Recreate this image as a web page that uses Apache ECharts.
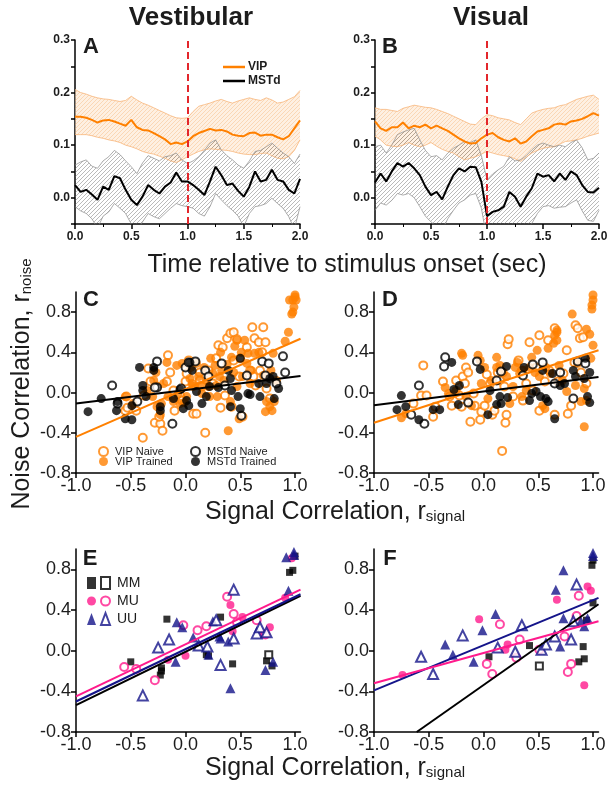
<!DOCTYPE html>
<html>
<head>
<meta charset="utf-8">
<script src="https://cdn.jsdelivr.net/npm/echarts@6/dist/echarts.min.js"></script>
<style>
  html, body { margin: 0; padding: 0; background: #fff; }
  #chart { width: 616px; height: 795px; }
</style>
</head>
<body>
<div id="chart"></div>
<script>
// ---- time course panels (A, B) ----
const t = [0,0.05,0.1,0.15,0.2,0.25,0.3,0.35,0.4,0.45,0.5,0.55,0.6,0.65,0.7,0.75,0.8,0.85,0.9,0.95,1.0,
  1.05,1.1,1.15,1.2,1.25,1.3,1.35,1.4,1.45,1.5,1.55,1.6,1.65,1.7,1.75,1.8,1.85,1.9,1.95,2.0];

const vipMeanA = [.154,.154,.152,.148,.143,.147,.148,.145,.141,.137,.148,.134,.129,.128,.123,.117,.111,.102,.105,.102,
  .107,.117,.123,.127,.131,.128,.129,.126,.120,.118,.117,.123,.124,.118,.120,.120,.115,.111,.117,.132,.147];
const vipUpA = [.206,.200,.197,.193,.190,.188,.187,.185,.183,.185,.193,.186,.180,.176,.171,.166,.161,.156,.152,.151,
  .152,.164,.174,.177,.180,.184,.187,.183,.180,.184,.187,.190,.187,.185,.190,.186,.180,.182,.187,.192,.204];
const vipLoA = [.120,.120,.120,.118,.115,.113,.110,.108,.105,.100,.097,.093,.088,.085,.083,.079,.075,.070,.067,.072,
  .078,.083,.088,.091,.093,.092,.091,.090,.088,.085,.083,.082,.082,.084,.085,.080,.075,.074,.078,.090,.110];
const mstMeanA = [.024,.011,.015,.006,-.004,.021,.015,.041,.037,.015,-.004,-.014,.002,.024,.015,.008,.021,.029,.048,.031,
  .031,.024,.015,.005,.031,.059,.043,.024,.027,.013,.002,.021,.050,.031,.034,.053,.034,.031,.015,.008,.036];
const mstUpA = [.062,.068,.072,.060,.056,.070,.078,.090,.082,.070,.059,.046,.066,.080,.075,.070,.078,.080,.085,.072,
  .065,.070,.078,.090,.104,.110,.091,.080,.072,.062,.056,.070,.088,.090,.097,.104,.094,.085,.078,.065,.083];
const mstLoA = [-.017,-.025,-.030,-.040,-.058,-.035,-.027,-.011,-.020,-.030,-.050,-.065,-.046,-.030,-.036,-.040,-.030,-.020,-.011,-.015,
  -.017,-.020,-.030,-.035,-.017,.008,-.004,-.015,-.024,-.035,-.055,-.030,-.017,-.015,-.011,-.001,-.011,-.020,-.036,-.060,-.017];

const vipMeanB = [.145,.132,.127,.134,.134,.143,.132,.137,.134,.139,.132,.137,.132,.127,.120,.113,.107,.103,.104,.113,
  .120,.123,.115,.110,.107,.113,.103,.107,.117,.126,.129,.132,.139,.141,.139,.145,.147,.150,.155,.161,.156];
const vipUpB = [.171,.168,.168,.166,.164,.170,.173,.176,.174,.172,.171,.168,.164,.160,.155,.150,.145,.140,.139,.150,
  .158,.156,.152,.150,.148,.143,.139,.150,.161,.165,.168,.170,.171,.175,.177,.182,.187,.190,.193,.195,.187];
const vipLoB = [.117,.110,.100,.098,.097,.100,.105,.100,.097,.100,.105,.098,.092,.088,.085,.078,.072,.075,.078,.083,
  .088,.085,.082,.080,.078,.074,.069,.077,.085,.090,.094,.096,.097,.102,.107,.108,.110,.113,.117,.120,.123];
const mstMeanB = [.029,.046,.031,.050,.066,.059,.066,.056,.043,.021,.005,.011,-.003,.021,.043,.056,.050,.059,.058,.030,
  -.035,-.027,-.024,-.017,.011,.002,-.017,.002,.018,.046,.040,.043,.031,.046,.034,.050,.043,.024,.011,.010,.019];
const mstUpB = [.097,.100,.085,.100,.120,.125,.129,.132,.110,.090,.078,.080,.072,.085,.094,.100,.107,.105,.110,.080,
  .034,.045,.053,.060,.078,.070,.072,.080,.091,.100,.104,.100,.097,.100,.097,.105,.110,.095,.072,.075,.085];
const mstLoB = [-.024,-.010,-.014,-.005,.008,.005,.008,.000,-.017,-.035,-.046,-.055,-.062,-.040,-.024,-.010,-.004,.005,.008,-.020,
  -.080,-.085,-.080,-.070,-.062,-.068,-.074,-.060,-.049,-.030,-.017,-.015,-.020,-.018,-.017,-.010,-.004,-.025,-.043,-.045,-.024];

const stimOnset = 1.0;

// ---- noise vs signal correlation (C, D) ----
const vipNaiveC = [[-0.55,-0.18],[-0.54,-0.04],[-0.53,-0.15],[-0.45,-0.18],[-0.39,-0.45],[-0.38,-0.03],[-0.34,0.24],[-0.32,0.11],
  [-0.28,-0.30],[-0.23,-0.31],[-0.21,-0.38],[-0.24,-0.24],[-0.26,0.06],[-0.17,0.11],[-0.16,0.37],[-0.14,0.20],[-0.11,0.02],
  [-0.10,-0.18],[-0.05,-0.03],[-0.03,-0.08],[0.0,0.11],[0.01,0.19],[0.03,0.32],[0.07,-0.21],[0.10,-0.21],[0.13,0.20],[0.13,0.12],
  [0.15,0.06],[0.18,-0.40],[0.21,0.22],[0.25,0.09],[0.28,0.34],[0.30,0.47],[0.32,-0.15],[0.34,0.45],[0.36,-0.03],[0.38,0.54],
  [0.41,0.59],[0.44,0.60],[0.44,0.32],[0.47,0.53],[0.49,0.16],[0.50,0.34],[0.52,-0.24],[0.56,0.45],[0.59,0.22],[0.61,0.65],
  [0.63,0.54],[0.64,0.07],[0.67,0.50],[0.68,0.22],[0.71,0.65],[0.73,0.50],[0.74,0.04],[0.77,-0.06],[0.70,0.40],[0.62,0.16],[0.42,-0.14]];
const vipTrainedC = [[-0.55,-0.04],[-0.48,-0.11],[-0.35,0.02],[-0.29,0.12],[-0.26,-0.14],[-0.23,-0.22],[-0.22,-0.11],[-0.17,0.30],
  [-0.16,-0.04],[-0.11,-0.09],[-0.08,0.27],[-0.07,-0.02],[-0.05,-0.11],[-0.03,0.29],[-0.01,-0.10],[0.01,-0.04],[0.04,0.14],
  [0.05,0.25],[0.06,0.09],[0.07,0.06],[0.10,0.29],[0.12,0.16],[0.13,0.07],[0.15,-0.01],[0.17,0.25],[0.19,0.12],[0.21,0.06],
  [0.22,-0.04],[0.23,0.34],[0.25,0.19],[0.27,0.27],[0.28,0.07],[0.29,-0.04],[0.31,0.16],[0.32,0.40],[0.33,0.22],[0.35,0.12],
  [0.38,0.28],[0.39,-0.38],[0.41,-0.09],[0.42,0.35],[0.44,0.20],[0.45,0.46],[0.47,0.06],[0.47,0.52],[0.49,-0.26],[0.51,0.40],
  [0.52,0.16],[0.54,0.52],[0.56,0.29],[0.57,0.39],[0.59,0.09],[0.60,0.22],[0.63,0.39],[0.67,0.40],[0.71,0.17],[0.73,-0.19],
  [0.74,-0.09],[0.77,-0.14],[0.78,0.22],[0.79,-0.18],[0.80,0.39],[0.81,-0.09],[0.83,0.12],[0.91,0.51],[0.94,0.60],[0.95,0.92],
  [0.97,0.78],[0.98,0.80],[0.99,0.85],[1.0,0.97],[1.01,0.92],[0.98,0.92],[1.0,0.95],[-0.27,0.20],[-0.30,-0.04],[-0.20,0.09]];
const mstNaiveC = [[-0.67,0.07],[-0.62,-0.11],[-0.44,-0.09],[-0.26,0.31],[-0.26,0.05],[-0.28,0.05],[-0.12,-0.31],[-0.04,0.04],
  [0.0,0.25],[0.03,0.30],[0.09,0.31],[0.18,0.22],[0.21,0.16],[0.33,0.29],[0.36,0.07],[0.56,0.17],[0.51,-0.23],[0.70,0.31],
  [0.76,0.29],[0.73,0.17],[0.83,0.09],[0.89,0.36],[0.91,0.20]];
const mstTrainedC = [[-0.89,-0.19],[-0.77,-0.06],[-0.63,-0.18],[-0.62,-0.09],[-0.55,-0.26],[-0.49,-0.27],[-0.49,-0.13],[-0.42,0.25],
  [-0.39,0.07],[-0.39,0.02],[-0.36,-0.04],[-0.29,0.25],[-0.29,0.22],[-0.23,-0.14],[-0.23,-0.18],[-0.11,-0.06],[-0.02,-0.16],
  [0.01,-0.08],[0.03,-0.13],[0.04,0.30],[0.06,0.22],[0.10,0.01],[0.15,-0.11],[0.19,-0.04],[0.22,0.06],[0.39,0.22],[0.41,0.14],
  [0.42,0.02],[0.41,-0.14],[0.48,-0.04],[0.50,0.34],[0.50,-0.16],[0.57,-0.01],[0.59,-0.02],[0.67,0.09],[0.68,-0.04],[0.74,0.09],
  [0.77,0.14],[0.80,0.16],[0.81,-0.06],[0.85,0.04],[0.30,0.05],[-0.05,0.03]];
const fitVipC = [[-1.0,-0.44],[1.05,0.535]];
const fitMstC = [[-1.0,-0.11],[1.05,0.165]];

const vipNaiveD = [[-0.55,0.27],[-0.64,-0.11],[-0.57,-0.03],[-0.52,-0.03],[-0.46,-0.24],[-0.44,-0.14],[-0.37,0.11],[-0.31,-0.04],
  [-0.29,-0.13],[-0.25,0.12],[-0.22,-0.03],[-0.20,-0.14],[-0.19,0.16],[-0.17,0.09],[-0.16,0.25],[-0.14,0.20],[-0.12,-0.29],
  [-0.09,-0.01],[-0.08,-0.13],[-0.03,-0.27],[-0.02,-0.19],[0.01,-0.13],[0.03,0.18],[0.06,0.09],[0.08,-0.22],[0.10,-0.18],
  [0.13,0.20],[0.15,0.12],[0.17,-0.58],[0.19,0.06],[0.20,-0.30],[0.21,-0.22],[0.22,0.48],[0.23,0.53],[0.27,-0.04],[0.32,0.32],
  [0.35,0.22],[0.36,-0.08],[0.39,0.09],[0.42,0.50],[0.45,0.02],[0.48,0.25],[0.51,-0.18],[0.51,0.57],[0.56,0.11],[0.59,0.52],
  [0.60,0.22],[0.65,0.64],[0.65,-0.22],[0.68,0.11],[0.73,0.19],[0.76,0.42],[0.77,-0.21],[0.80,-0.13],[0.84,0.67],[0.86,0.64],
  [0.88,0.54],[0.91,0.55],[0.89,0.20],[0.94,0.09],[0.83,0.30]];
const vipTrainedD = [[-0.75,-0.25],[-0.71,-0.21],[-0.35,0.05],[-0.32,-0.01],[-0.25,0.02],[-0.20,0.39],[-0.19,0.37],[-0.16,-0.04],
  [-0.11,-0.13],[-0.05,0.37],[-0.03,0.32],[-0.02,0.09],[0.01,0.25],[0.04,-0.06],[0.07,0.12],[0.12,0.35],[0.15,0.27],[0.18,0.20],
  [0.21,0.16],[0.24,-0.11],[0.27,0.06],[0.29,0.25],[0.31,0.30],[0.33,0.19],[0.35,-0.04],[0.36,0.22],[0.39,0.02],[0.42,0.25],
  [0.44,0.35],[0.47,0.20],[0.49,0.42],[0.51,0.16],[0.54,-0.13],[0.56,-0.16],[0.57,0.25],[0.59,0.44],[0.61,0.19],[0.64,0.49],
  [0.65,0.57],[0.67,0.60],[0.67,0.52],[0.67,0.62],[0.69,0.27],[0.72,0.12],[0.76,0.01],[0.81,0.78],[0.84,0.07],[0.86,0.29],
  [0.89,-0.09],[0.92,0.04],[0.92,-0.34],[0.94,0.63],[0.94,-0.08],[0.97,0.58],[0.98,0.34],[1.0,0.47],[0.99,0.87],[1.0,0.92],
  [1.0,0.97],[0.99,0.83],[0.12,0.25]];
const mstNaiveD = [[-0.66,-0.22],[-0.59,0.07],[-0.54,-0.31],[-0.36,0.26],[-0.35,0.35],[-0.14,-0.10],[-0.06,0.31],[0.12,0.12],
  [0.16,0.21],[0.36,0.17],[0.45,0.28],[0.54,0.30],[0.65,0.09],[0.70,0.20],[0.82,-0.06],[0.86,0.31],[0.93,0.29]];
const mstTrainedD = [[-0.75,-0.03],[-0.79,-0.17],[-0.71,-0.14],[-0.59,-0.27],[-0.46,-0.17],[-0.40,-0.17],[-0.29,0.30],[-0.27,0.03],
  [-0.22,0.07],[-0.23,-0.12],[-0.03,0.23],[0.04,-0.22],[0.06,0.02],[0.12,-0.12],[0.15,-0.04],[0.16,-0.11],[0.21,0.26],[0.22,-0.05],
  [0.37,0.25],[0.42,-0.08],[0.44,-0.01],[0.48,0.01],[0.52,-0.04],[0.54,0.22],[0.57,-0.06],[0.59,-0.09],[0.63,0.19],[0.65,-0.26],
  [0.70,0.07],[0.74,0.09],[0.82,0.22],[0.84,0.16],[0.92,0.14],[0.93,0.34],[0.97,0.20],[0.95,-0.04],[0.97,-0.10]];
const fitVipD = [[-1.0,-0.30],[1.05,0.42]];
const fitMstD = [[-1.0,-0.126],[1.05,0.155]];

// ---- pair types (E, F) ----
const mmFilledE = [[-0.50,-0.11],[-0.22,-0.17],[-0.22,-0.20],[-0.23,-0.24],[-0.17,0.31],[0.19,-0.04],[0.21,-0.05],[0.32,0.33],
  [0.43,-0.13],[0.74,-0.10],[0.79,-0.15],[0.95,0.77],[0.98,0.79],[1.0,0.93]];
const mmOpenE = [[0.76,-0.04]];
const muFilledE = [[0.0,-0.05],[0.41,0.45],[0.43,0.19],[0.52,0.33],[0.71,0.16],[0.77,0.23],[0.91,0.52],[0.97,0.91],[-0.16,-0.09]];
const muOpenE = [[-0.56,-0.16],[-0.45,-0.18],[-0.28,-0.29],[-0.02,0.25],[0.11,0.20],[0.19,0.24],[0.38,0.53],[0.44,0.36],
  [0.47,0.28],[0.65,0.30],[0.73,0.16]];
const uuFilledE = [[-0.08,0.28],[-0.03,0.23],[-0.09,-0.11],[0.07,0.13],[0.21,-0.04],[0.25,0.29],[0.31,0.14],[0.32,0.12],
  [0.39,0.09],[0.41,-0.37],[0.73,-0.19],[0.80,-0.11],[0.92,0.92],[0.94,0.59],[0.99,0.97],[0.99,0.94]];
const uuOpenE = [[-0.39,-0.44],[-0.25,0.03],[-0.15,0.11],[0.12,0.05],[0.20,0.04],[0.32,-0.14],[0.28,0.30],[0.44,0.60],
  [0.44,0.12],[0.65,0.17],[0.68,0.23],[0.74,0.18]];
const fitMuE = [[-1.0,-0.45],[1.05,0.60]];
const fitUuE = [[-1.0,-0.50],[1.05,0.555]];
const fitMmE = [[-1.0,-0.535],[1.05,0.54]];

const mmFilledF = [[0.05,-0.06],[0.42,0.05],[0.87,-0.11],[0.92,-0.08],[0.91,0.04],[0.94,0.30],[1.0,0.47],[0.99,0.84],[1.0,0.89]];
const mmOpenF = [[0.51,-0.15]];
const muFilledF = [[-0.74,-0.24],[-0.04,0.31],[0.22,0.06],[0.20,0.01],[0.67,0.50],[0.95,0.63],[0.98,0.59],[0.92,-0.34]];
const muOpenF = [[0.03,-0.13],[0.08,-0.23],[0.15,0.26],[0.33,0.11],[0.30,-0.07],[0.51,0.01],[0.74,0.14],[0.77,-0.21],
  [0.80,-0.13],[0.87,0.54],[0.85,0.34]];
const uuFilledF = [[-0.35,0.06],[-0.28,-0.04],[-0.09,-0.11],[-0.01,0.20],[0.11,0.36],[0.66,0.60],[0.73,0.79],[0.73,0.32],
  [0.70,0.04],[0.89,0.29],[0.92,0.24],[0.95,0.32],[1.0,0.96],[1.0,0.93]];
const uuOpenF = [[-0.57,-0.06],[-0.46,-0.23],[-0.19,0.15],[0.13,0.03],[0.29,-0.01],[0.35,0.25],[0.53,0.01],[0.57,0.06],
  [0.65,0.14],[0.80,0.11],[0.85,0.65],[0.82,0.29]];
const fitMuF = [[-1.0,-0.32],[1.05,0.29]];
const fitUuF = [[-1.0,-0.39],[1.05,0.52]];
const fitMmF = [[-0.61,-0.8],[1.05,0.457]];

// ---- look ----
const FONT = '"Liberation Sans", Arial, Helvetica, sans-serif';
const INK = '#1c1c1c';
const ORANGE = '#ff8000';
const PINK = '#ff1a8c';
const NAVY = '#14148a';

function hatch(bg, ink, size) {
  const c = document.createElement('canvas');
  c.width = size; c.height = size;
  const g = c.getContext('2d');
  if (bg) { g.fillStyle = bg; g.fillRect(0, 0, size, size); }
  g.strokeStyle = ink; g.lineWidth = 0.6;
  g.beginPath();
  g.moveTo(0, size); g.lineTo(size, 0);
  g.moveTo(-1, 1); g.lineTo(1, -1);
  g.moveTo(size - 1, size + 1); g.lineTo(size + 1, size - 1);
  g.stroke();
  return c;
}
const vipHatch = hatch('rgba(253,226,198,0.5)', 'rgba(245,170,100,0.6)', 4);
const mstHatch = hatch(null, 'rgba(100,100,100,0.75)', 4);

const pairs = (xs, ys) => xs.map((x, i) => [x, ys[i]]);

const axisLine = { onZero: false, lineStyle: { color: '#000', width: 1.5 } };

function timeX(i) {
  return {
    gridIndex: i, type: 'value', min: 0, max: 2, interval: 0.5,
    axisLine, axisTick: { length: 5, lineStyle: { width: 1.5 } },
    minorTick: { show: true, splitNumber: 2, length: 3, lineStyle: { color: '#000' } },
    splitLine: { show: false },
    axisLabel: { color: INK, fontFamily: FONT, fontWeight: 'bold', fontSize: 12, margin: 7,
      formatter: v => v.toFixed(1) }
  };
}
function timeY(i) {
  return {
    gridIndex: i, type: 'value', min: -0.05, max: 0.3, interval: 0.05,
    axisLine, axisTick: { length: 4, lineStyle: { width: 1.5 } },
    splitLine: { show: false },
    axisLabel: { color: INK, fontFamily: FONT, fontWeight: 'bold', fontSize: 12, margin: 5,
      formatter: v => (Math.round(v * 100) % 10 === 0 ? v.toFixed(1) : '') }
  };
}
function corrX(i) {
  const ticks = [-1, -0.5, 0, 0.5, 1];
  return {
    gridIndex: i, type: 'value', min: -1, max: 1.05,
    axisLine, axisTick: { length: 5, lineStyle: { width: 1.5 }, customValues: ticks },
    splitLine: { show: false },
    axisLabel: { color: INK, fontFamily: FONT, fontSize: 18, margin: 4, customValues: ticks,
      formatter: v => v.toFixed(1) }
  };
}
function corrY(i) {
  const ticks = [-0.8, -0.4, 0, 0.4, 0.8];
  return {
    gridIndex: i, type: 'value', min: -0.8, max: 1.0,
    axisLine, axisTick: { length: 5, lineStyle: { width: 1.5 }, customValues: ticks },
    splitLine: { show: false },
    axisLabel: { color: INK, fontFamily: FONT, fontSize: 18, margin: 5, customValues: ticks,
      formatter: v => v.toFixed(1) }
  };
}

// shaded error band: hatched polygon between lo and up, plus thin edges
function band(gi, lo, up, fill, edge, ew) {
  const edgeLine = ys => ({ type: 'line', xAxisIndex: gi, yAxisIndex: gi, data: pairs(t, ys),
    symbol: 'none', silent: true, z: 3, lineStyle: { color: edge, width: ew } });
  return [
    { type: 'custom', xAxisIndex: gi, yAxisIndex: gi, clip: true, silent: true, z: 2,
      data: [[0, 0]],
      renderItem: (params, api) => {
        const top = t.map((x, i) => api.coord([x, up[i]]));
        const bot = t.map((x, i) => api.coord([x, lo[i]])).reverse();
        return { type: 'polygon', shape: { points: top.concat(bot) },
          style: { fill: { image: fill, repeat: 'repeat' }, stroke: null } };
      } },
    edgeLine(up), edgeLine(lo)
  ];
}
function mean(name, gi, ys, color, withOnset) {
  const s = { name, type: 'line', xAxisIndex: gi, yAxisIndex: gi, data: pairs(t, ys),
    symbol: 'none', silent: true, z: 4, itemStyle: { color }, lineStyle: { color, width: 2 } };
  if (withOnset) {
    s.markLine = { silent: true, symbol: 'none', label: { show: false },
      lineStyle: { color: '#e3262b', type: [7, 4], width: 2 }, data: [{ xAxis: stimOnset }] };
  }
  return s;
}
function sc(name, gi, data, symbol, color, size, bw) {
  return { name, type: 'scatter', xAxisIndex: gi, yAxisIndex: gi, data, symbol, symbolSize: size,
    silent: true, itemStyle: { color, borderWidth: bw || 0 } };
}
function fit(gi, data, color) {
  return { type: 'line', xAxisIndex: gi, yAxisIndex: gi, data, symbol: 'none', silent: true, z: 5,
    lineStyle: { color, width: 2 } };
}

const series = [].concat(
  band(0, vipLoA, vipUpA, vipHatch, '#f8b57a', 0.8),
  band(0, mstLoA, mstUpA, mstHatch, '#8a8a8a', 0.7),
  [mean('VIP', 0, vipMeanA, ORANGE, true), mean('MSTd', 0, mstMeanA, '#000', false)],
  band(1, vipLoB, vipUpB, vipHatch, '#f8b57a', 0.8),
  band(1, mstLoB, mstUpB, mstHatch, '#8a8a8a', 0.7),
  [mean('VIP', 1, vipMeanB, ORANGE, true), mean('MSTd', 1, mstMeanB, '#000', false)],
  [
    sc('VIP Naive', 2, vipNaiveC, 'emptyCircle', ORANGE, 8, 1.3),
    sc('VIP Trained', 2, vipTrainedC, 'circle', ORANGE, 9),
    sc('MSTd Naive', 2, mstNaiveC, 'emptyCircle', '#000', 8, 1.3),
    sc('MSTd Trained', 2, mstTrainedC, 'circle', '#000', 9),
    fit(2, fitVipC, ORANGE), fit(2, fitMstC, '#000'),
    sc('VIP Naive', 3, vipNaiveD, 'emptyCircle', ORANGE, 8, 1.3),
    sc('VIP Trained', 3, vipTrainedD, 'circle', ORANGE, 9),
    sc('MSTd Naive', 3, mstNaiveD, 'emptyCircle', '#000', 8, 1.3),
    sc('MSTd Trained', 3, mstTrainedD, 'circle', '#000', 9),
    fit(3, fitVipD, ORANGE), fit(3, fitMstD, '#000'),
    sc('MM filled', 4, mmFilledE, 'rect', '#000', 7),
    sc('MM', 4, mmOpenE, 'emptyRect', '#000', 7, 1.2),
    sc('MU filled', 4, muFilledE, 'circle', PINK, 8),
    sc('MU', 4, muOpenE, 'emptyCircle', PINK, 8, 1.3),
    sc('UU filled', 4, uuFilledE, 'triangle', NAVY, 10),
    sc('UU', 4, uuOpenE, 'emptyTriangle', NAVY, 10, 1.3),
    fit(4, fitMmE, '#000'), fit(4, fitUuE, NAVY), fit(4, fitMuE, PINK),
    sc('MM filled', 5, mmFilledF, 'rect', '#000', 7),
    sc('MM', 5, mmOpenF, 'emptyRect', '#000', 7, 1.2),
    sc('MU filled', 5, muFilledF, 'circle', PINK, 8),
    sc('MU', 5, muOpenF, 'emptyCircle', PINK, 8, 1.3),
    sc('UU filled', 5, uuFilledF, 'triangle', NAVY, 10),
    sc('UU', 5, uuOpenF, 'emptyTriangle', NAVY, 10, 1.3),
    fit(5, fitMmF, '#000'), fit(5, fitUuF, NAVY), fit(5, fitMuF, PINK)
  ]
);

function txt(x, y, text, font) {
  return { type: 'text', x, y, silent: true,
    style: { text, font, fill: INK, align: 'center', verticalAlign: 'middle' } };
}
const sub = { s: { fontSize: 15, fontFamily: FONT, fill: INK, verticalAlign: 'bottom', lineHeight: 9 } };
function subTxt(x, y, text, rot) {
  return { type: 'text', x, y, rotation: rot || 0, silent: true,
    style: { text, fontSize: 25, fontFamily: FONT, fill: INK, align: 'center', verticalAlign: 'middle', rich: sub } };
}
const bold = s => 'bold ' + s + 'px ' + FONT;

const legendBase = { selectedMode: false, padding: 0 };

const option = {
  animation: false,
  backgroundColor: '#fff',
  grid: [
    { left: 75, top: 40, width: 225, height: 184 },
    { left: 375, top: 40, width: 224, height: 184 },
    { left: 76, top: 292, width: 224.5, height: 181 },
    { left: 374, top: 292, width: 224.5, height: 181 },
    { left: 76, top: 549, width: 224.5, height: 183 },
    { left: 374, top: 549, width: 224.5, height: 183 }
  ],
  xAxis: [timeX(0), timeX(1), corrX(2), corrX(3), corrX(4), corrX(5)],
  yAxis: [timeY(0), timeY(1), corrY(2), corrY(3), corrY(4), corrY(5)],
  legend: [
    Object.assign({ data: [{ name: 'VIP', icon: 'rect' }, { name: 'MSTd', icon: 'rect' }], orient: 'vertical',
      left: 223, top: 61, itemWidth: 22, itemHeight: 2.5, itemGap: 2,
      textStyle: { fontFamily: FONT, fontWeight: 'bold', fontSize: 12, color: INK, padding: [0, 0, 0, -2] } }, legendBase),
    Object.assign({ data: ['VIP Naive', 'VIP Trained'], orient: 'vertical', left: 98, top: 446,
      itemWidth: 9, itemHeight: 9, itemGap: -1,
      textStyle: { fontFamily: FONT, fontSize: 11, color: INK, padding: [0, 0, 0, 2] } }, legendBase),
    Object.assign({ data: ['MSTd Naive', 'MSTd Trained'], orient: 'vertical', left: 190, top: 446,
      itemWidth: 9, itemHeight: 9, itemGap: -1,
      textStyle: { fontFamily: FONT, fontSize: 11, color: INK, padding: [0, 0, 0, 2] } }, legendBase),
    Object.assign({ data: ['MM filled', 'MM', 'MU filled', 'MU', 'UU filled', 'UU'], orient: 'horizontal',
      left: 87, top: 576, width: 62, itemWidth: 9, itemHeight: 12, itemGap: 4,
      formatter: name => (name.indexOf('filled') > -1 ? '' : name),
      textStyle: { fontFamily: FONT, fontSize: 14, color: INK, padding: [0, 0, 0, 2] } }, legendBase)
  ],
  graphic: [
    txt(191, 18, 'Vestibular', bold(26)),
    txt(491, 18, 'Visual', bold(26)),
    txt(91, 47, 'A', bold(22)),
    txt(390, 47, 'B', bold(22)),
    txt(91, 300, 'C', bold(22)),
    txt(390, 300, 'D', bold(22)),
    txt(90, 559, 'E', bold(22)),
    txt(390, 559, 'F', bold(22)),
    txt(347, 265, 'Time relative to stimulus onset (sec)', '25px ' + FONT),
    subTxt(335, 512, 'Signal Correlation, r{s|signal}'),
    subTxt(335, 768, 'Signal Correlation, r{s|signal}'),
    subTxt(22, 384, 'Noise Correlation, r{s|noise}', Math.PI / 2)
  ],
  series
};

const chart = echarts.init(document.getElementById('chart'), null, { renderer: 'canvas' });
chart.setOption(option);
</script>
</body>
</html>
